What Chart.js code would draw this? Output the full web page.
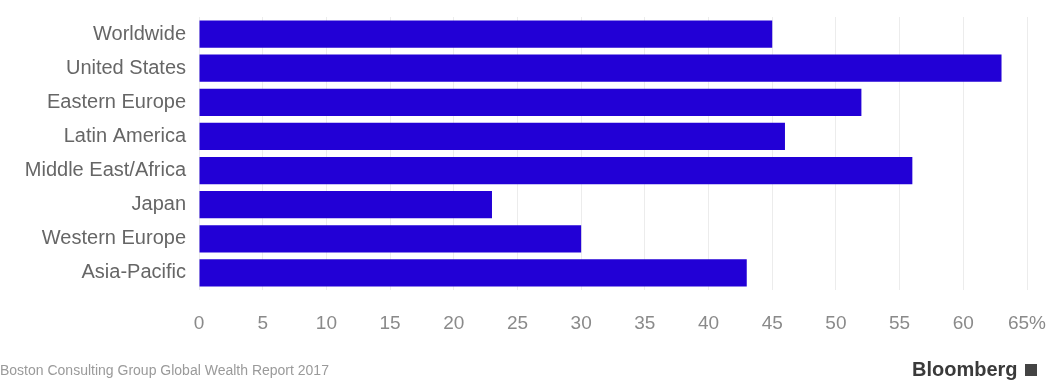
<!DOCTYPE html>
<html>
<head>
<meta charset="utf-8">
<script src="https://cdn.jsdelivr.net/npm/chart.js@4"></script>
<style>
  body { margin: 0; background: #fff; font-family: "Liberation Sans", Arial, sans-serif; }
  #wrap { position: relative; width: 1049px; height: 381px; overflow: hidden; }
  #chart { position: absolute; left: 0; top: 0; }
  .source { position: absolute; left: 0; top: 362px; font-size: 14px; color: #9a9a9a; }
  .brand { position: absolute; left: 912px; top: 358px; font-size: 20px; font-weight: bold; color: #3a3a3a; }
  .brand span { display: inline-block; width: 12px; height: 12px; background: #444; margin-left: 7px; vertical-align: 0; }
</style>
</head>
<body>
<div id="wrap">
  <canvas id="chart" width="1049" height="381"></canvas>
  <div class="source">Boston Consulting Group Global Wealth Report 2017</div>
  <div class="brand">Bloomberg<span></span></div>
</div>
<script>
const regions = ['Worldwide', 'United States', 'Eastern Europe', 'Latin America',
    'Middle East/Africa', 'Japan', 'Western Europe', 'Asia-Pacific'];
const shares = [45, 63, 52, 46, 56, 23, 30, 43];
const xMax = 65;

const ctx = document.getElementById('chart').getContext('2d');
const chart = new Chart(ctx, {
    type: 'bar',
    data: {
        labels: regions,
        datasets: [{
            data: shares,
            backgroundColor: '#2200d6',
            borderWidth: 0,
            barPercentage: 0.8,
            categoryPercentage: 1
        }]
    },
    options: {
        indexAxis: 'y',
        responsive: false,
        animation: false,
        layout: { padding: { top: 12, right: 22, bottom: 41, left: 0 } },
        plugins: { legend: { display: false }, tooltip: { enabled: false } },
        scales: {
            x: {
                min: 0,
                max: xMax,
                grid: { color: '#ececec', drawTicks: false },
                border: { display: false },
                ticks: {
                    stepSize: 5,
                    padding: 22,
                    color: '#8a8a8a',
                    font: { family: 'Liberation Sans', size: 19 },
                    callback: v => v === xMax ? v + '%' : v
                },
                afterFit: scale => {
                    scale.height = 50;
                    // keep the plot edge where the reference has it
                    scale.paddingRight = 0;
                    scale.paddingLeft = 0;
                }
            },
            y: {
                grid: { display: false },
                border: { display: false },
                ticks: {
                    padding: 5,
                    color: '#666',
                    font: { family: 'Liberation Sans', size: 20 }
                },
                afterFit: scale => { scale.width = 199; }
            }
        }
    }
});
</script>
</body>
</html>
